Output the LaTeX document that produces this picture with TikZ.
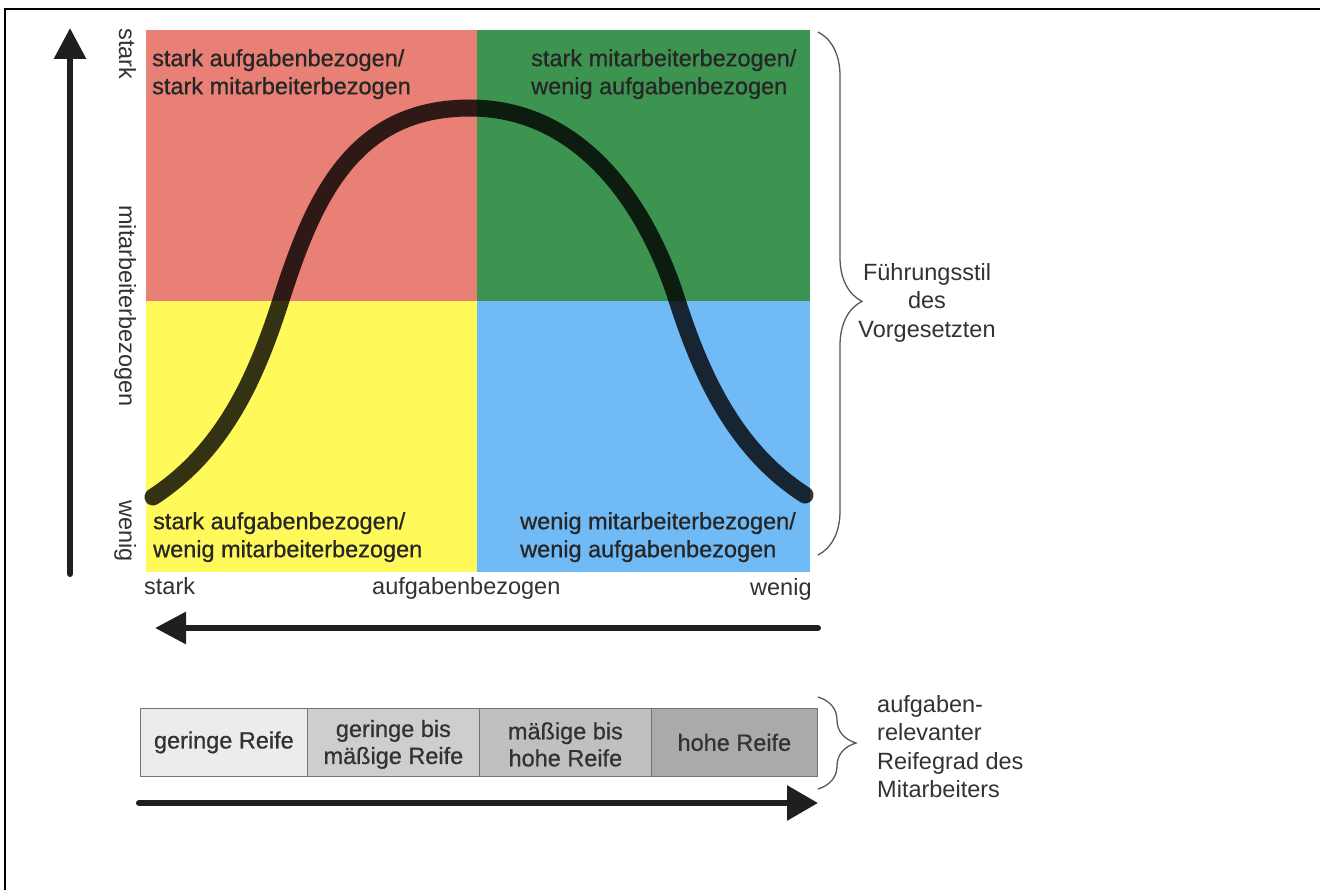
\documentclass[tikz,border=0pt]{standalone}
\usepackage{fontspec}
\setmainfont{Liberation Sans}
\newfontfamily\heavyfont[FakeBold=0.7]{Liberation Sans}
\usetikzlibrary{arrows.meta,decorations.pathreplacing}
\definecolor{qred}{RGB}{232,128,118}
\definecolor{qgreen}{RGB}{60,148,80}
\definecolor{qyellow}{RGB}{255,250,90}
\definecolor{qblue}{RGB}{112,186,245}
\definecolor{txt}{RGB}{38,38,38}
\definecolor{lbl}{RGB}{50,50,50}
\definecolor{barA}{RGB}{236,236,236}
\definecolor{barB}{RGB}{206,206,206}
\definecolor{barC}{RGB}{192,192,192}
\definecolor{barD}{RGB}{170,170,170}
\begin{document}
\begin{tikzpicture}[x=1pt,y=-1pt,
  qtext/.style={font=\heavyfont\fontsize{23.5}{28}\selectfont, text=txt, inner sep=0pt, align=left, anchor=north west},
  axlabel/.style={font=\fontsize{23.5}{28}\selectfont, text=lbl, inner sep=0pt},
  bartext/.style={font=\heavyfont\fontsize{23.5}{27}\selectfont, text=lbl, inner sep=0pt, align=center},
  sidetext/.style={font=\fontsize{23.5}{28.5}\selectfont, text=lbl, inner sep=0pt},
  bigarrow/.style={line width=6pt, draw=black!88, line cap=round, -{Triangle[length=31pt,width=31pt]}},
  bracestyle/.style={draw=black!65, line width=1.3pt, decorate},
  cell/.style={draw=black!55, line width=0.8pt}
]
\useasboundingbox (0,0) rectangle (1320,890);
\fill[white] (0,0) rectangle (1320,890);
% frame
\draw[line width=2.6pt] (1320,9) -- (5,9) -- (5,890);

% quadrants
\fill[qred] (146,30) rectangle (477,301);
\fill[qgreen] (477,30) rectangle (810,301);
\fill[qyellow] (146,301) rectangle (477,572);
\fill[qblue] (477,301) rectangle (810,572);

% bell curve
\coordinate (c0) at (153,497);
\coordinate (c1) at (281,300);
\coordinate (c2) at (470,108);
\coordinate (c3) at (677,300);
\coordinate (c4) at (805,495);
\draw[line width=17pt, line cap=round, draw=black, opacity=0.8]
  (c0) .. controls (225,450) and (257,375) .. (c1)
       .. controls (313,200) and (352,108) .. (c2)
       .. controls (578,108) and (645,200) .. (c3)
       .. controls (701,375) and (735,450) .. (c4);

% quadrant texts
\node[qtext] (tl) at (152,49) {stark aufgabenbezogen/\\stark mitarbeiterbezogen};
\node[qtext] (tr) at (531,49) {stark mitarbeiterbezogen/\\wenig aufgabenbezogen};
\node[qtext] (bl) at (153,512) {stark aufgabenbezogen/\\wenig mitarbeiterbezogen};
\node[qtext] (br) at (520,512) {wenig mitarbeiterbezogen/\\wenig aufgabenbezogen};

% vertical axis
\coordinate (vb) at (70,574);
\coordinate (vt) at (70,28);
\draw[bigarrow] (vb) -- (vt);
\node[axlabel, rotate=-90, anchor=base] (ys) at (119,54) {stark};
\node[axlabel, rotate=-90, anchor=base] (ym) at (119,306) {mitarbeiterbezogen};
\node[axlabel, rotate=-90, anchor=base] (yw) at (119,531) {wenig};

% horizontal axis
\node[axlabel, anchor=base west] (xs) at (144,594) {stark};
\node[axlabel, anchor=base west] (xm) at (372,594) {aufgabenbezogen};
\node[axlabel, anchor=base west] (xw) at (750,595) {wenig};
\coordinate (hr) at (818,628);
\coordinate (hl) at (155,628);
\draw[bigarrow] (hr) -- (hl);

% brace 1
\coordinate (b1t) at (818,32);
\coordinate (b1b) at (818,555);
\draw[bracestyle, decoration={brace, amplitude=44pt, aspect=0.515}] (b1t) -- (b1b);
\node[sidetext, align=center, anchor=north] (fs) at (927,263) {Führungsstil\\des\\Vorgesetzten};

% maturity bar
\node[cell, fill=barA, minimum width=167pt, minimum height=68pt, anchor=north west, inner sep=0pt] (m1) at (140,708) {};
\node[cell, fill=barB, minimum width=172pt, minimum height=68pt, anchor=north west, inner sep=0pt] (m2) at (307,708) {};
\node[cell, fill=barC, minimum width=172pt, minimum height=68pt, anchor=north west, inner sep=0pt] (m3) at (479,708) {};
\node[cell, fill=barD, minimum width=166pt, minimum height=68pt, anchor=north west, inner sep=0pt] (m4) at (651,708) {};
\node[bartext] (t1) at (m1.center) {geringe Reife};
\node[bartext] (t2) at ([yshift=-2pt]m2.center) {geringe bis\\mäßige Reife};
\node[bartext] (t3) at ([yshift=-2pt]m3.center) {mäßige bis\\hohe Reife};
\node[bartext] (t4) at (m4.center) {hohe Reife};

% brace 2
\coordinate (b2t) at (818,697);
\coordinate (b2b) at (818,789);
\draw[bracestyle, decoration={brace, amplitude=38pt}] (b2t) -- (b2b);
\node[sidetext, align=left, anchor=north west] (rg) at (877,695) {aufgaben-\\relevanter\\Reifegrad des\\Mitarbeiters};

% bottom arrow
\coordinate (al) at (139,803);
\coordinate (ar) at (818,803);
\draw[bigarrow, -{Triangle[length=31pt,width=34pt]}] (al) -- (ar);
\end{tikzpicture}
\end{document}
